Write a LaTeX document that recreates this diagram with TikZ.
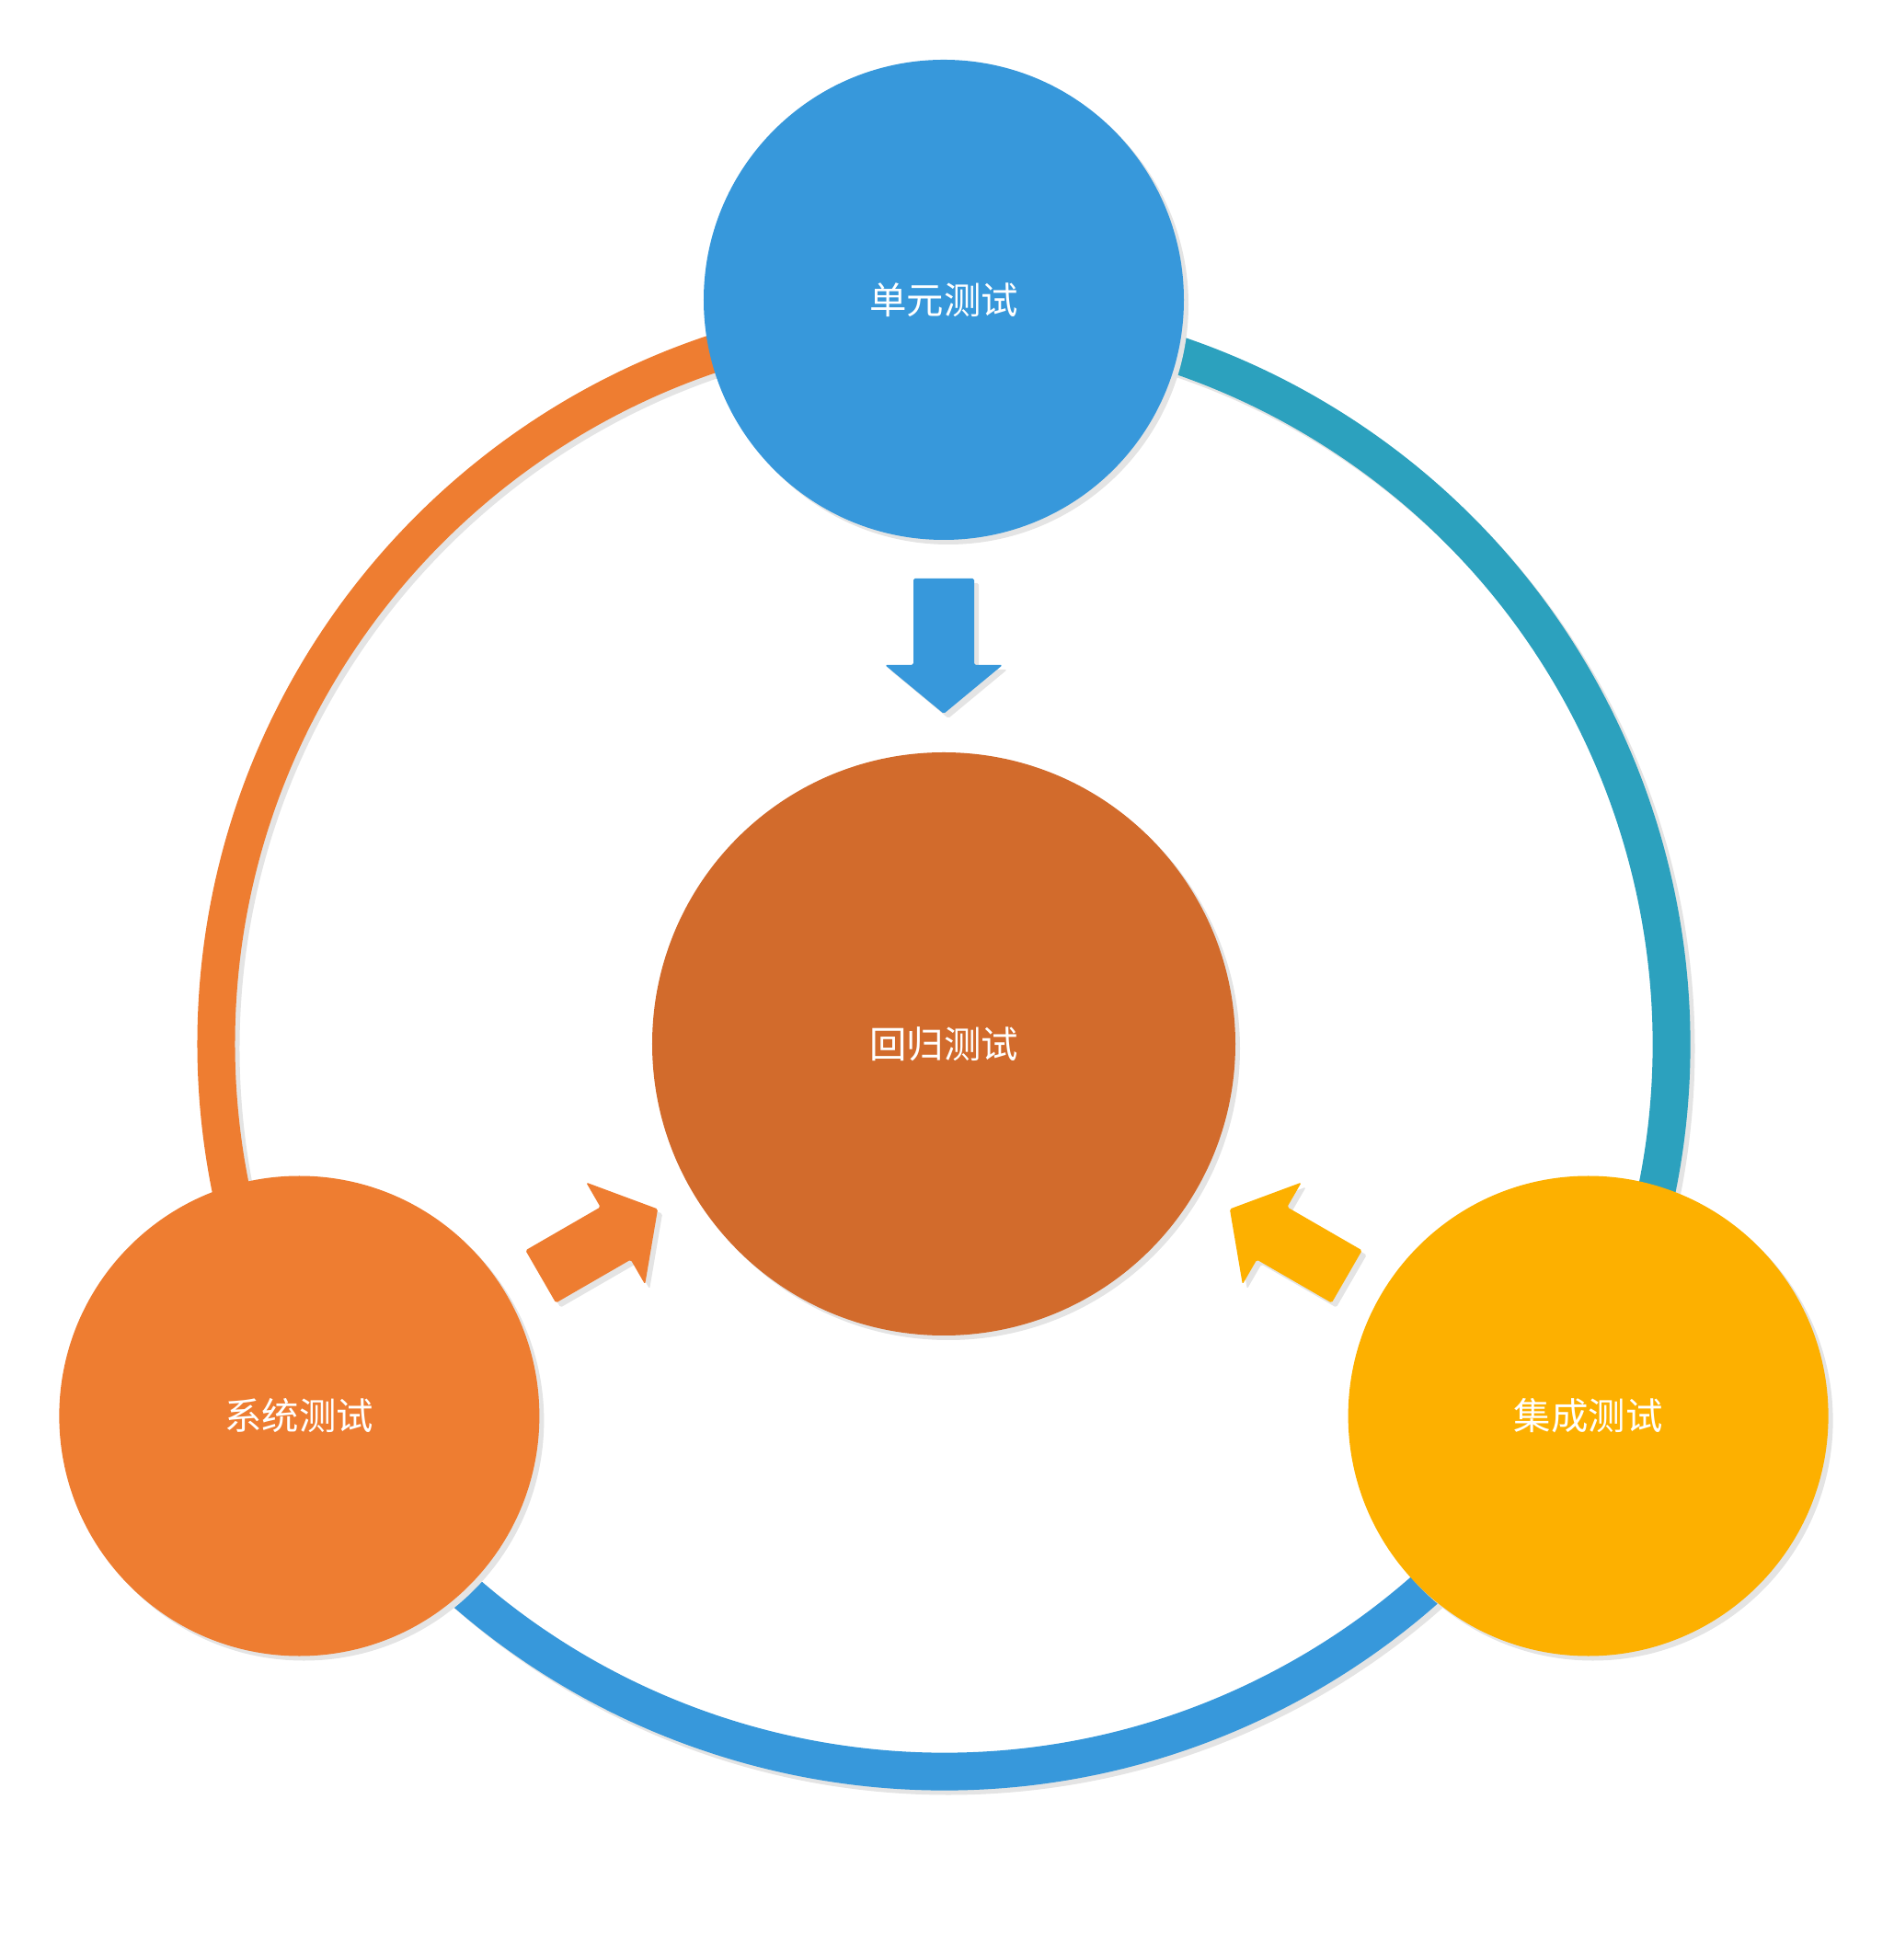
\documentclass[tikz,border=0pt]{standalone}
\usepackage{fontspec}
\newfontfamily\cjk{Noto Sans CJK SC}
\usetikzlibrary{shadows}
\definecolor{unitblue}{HTML}{3798DB}
\definecolor{sysorange}{HTML}{EE7D31}
\definecolor{intamber}{HTML}{FDB000}
\definecolor{regbrown}{HTML}{D26B2C}
\definecolor{ringteal}{HTML}{2CA1BE}
\definecolor{ghostgray}{HTML}{E4E4E4}
\tikzset{
  stage/.style={circle, inner sep=0pt, minimum size=5.22cm, text=white,
    font=\cjk\fontsize{11.5}{14}\selectfont,
    drop shadow={shadow xshift=0.05cm, shadow yshift=-0.05cm, fill=ghostgray, opacity=1}},
  hub/.style={stage, minimum size=6.34cm},
  band/.style={line width=0.41cm},
  ghost/.style={ghostgray}
}
\begin{document}
\begin{tikzpicture}
    \useasboundingbox (-10.26,-9.96) rectangle (10.32,11.35);

    % ring
    \draw[band, ghost, shift={(0.05,-0.05)}] (0,0) circle (7.91);
    \draw[band, sysorange] (90:7.91) arc (90:210:7.91);
    \draw[band, unitblue]  (210:7.91) arc (210:330:7.91);
    \draw[band, ringteal]  (330:7.91) arc (330:450:7.91);

    % arrows towards the centre
    \foreach \ang/\col in {0/unitblue, 120/sysorange, -120/intamber}{
      \fill[ghost, rounded corners=0.5pt, shift={(0.05,-0.05)}, rotate=\ang]
        (-0.33,5.06) -- (0.33,5.06) -- (0.33,4.12) -- (0.64,4.12) -- (0,3.59)
        -- (-0.64,4.12) -- (-0.33,4.12) -- cycle;
      \fill[\col, rounded corners=0.5pt, rotate=\ang]
        (-0.33,5.06) -- (0.33,5.06) -- (0.33,4.12) -- (0.64,4.12) -- (0,3.59)
        -- (-0.64,4.12) -- (-0.33,4.12) -- cycle;
    }

    \node[hub, fill=regbrown] (regress) at (0,0) {回归测试};
    \node[stage, fill=unitblue]  (unit)   at (90:8.09)  {单元测试};
    \node[stage, fill=sysorange] (system) at (210:8.09) {系统测试};
    \node[stage, fill=intamber]  (integ)  at (330:8.09) {集成测试};
\end{tikzpicture}
\end{document}
